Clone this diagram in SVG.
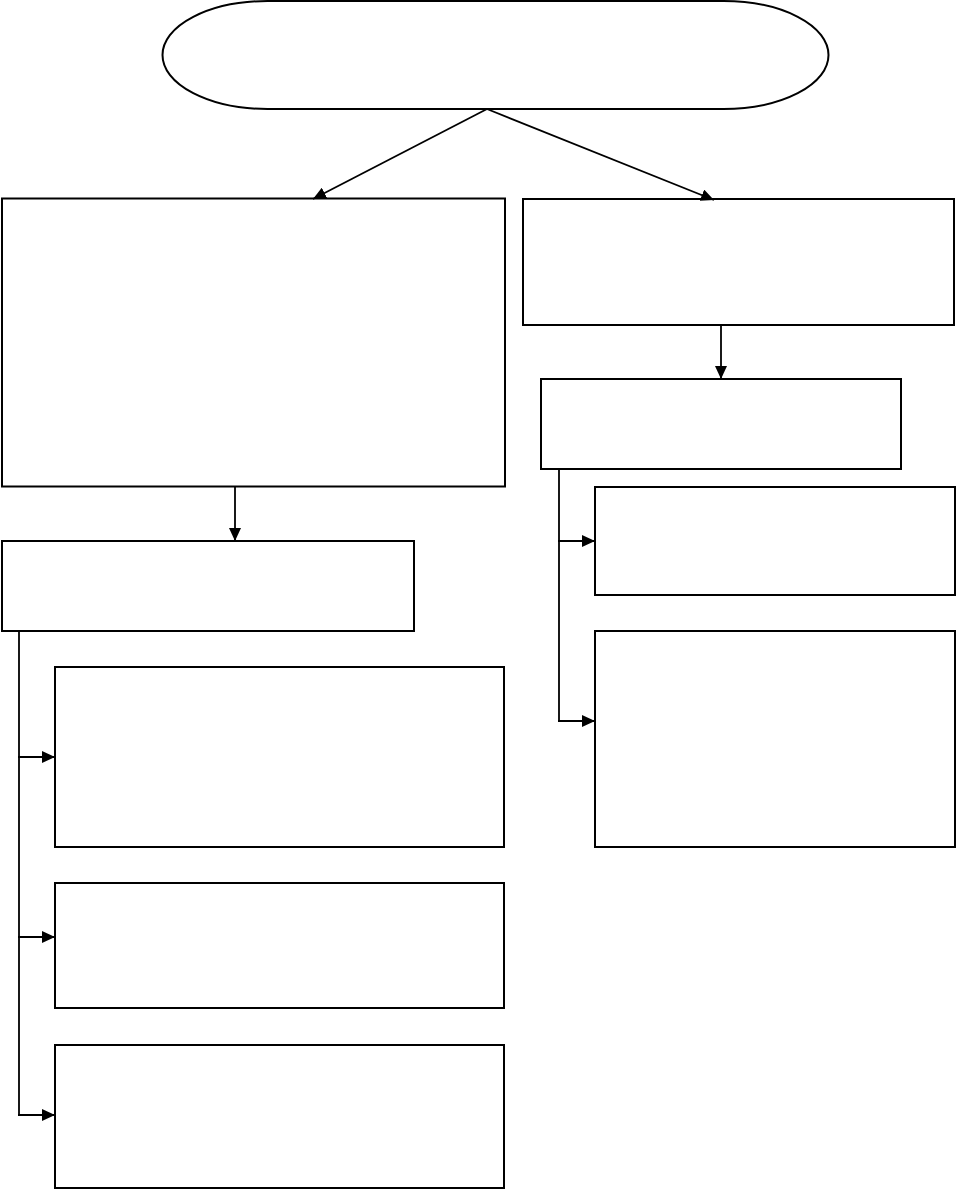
<svg xmlns="http://www.w3.org/2000/svg" width="956" height="1190" viewBox="0 0 956 1190">
<style>
.n{fill:#fff;stroke:#000;stroke-width:2}
.c{fill:none;stroke:#000;stroke-width:1.8}
</style>
<defs>
<marker id="ah" markerUnits="userSpaceOnUse" markerWidth="13" markerHeight="12" refX="13" refY="6" orient="auto">
<path d="M0,0 L13,6 L0,12 Z" fill="#000"/>
</marker>
</defs>
<rect width="956" height="1190" fill="#fff"/>
<g id="start"><rect class="n" x="162.5" y="1" width="666" height="108" rx="105" ry="54" stroke-width="1.6"/></g>
<g id="left-main"><rect class="n" x="2" y="198.5" width="503" height="288" stroke-width="1.8"/></g>
<g id="right-main"><rect class="n" x="523" y="199" width="431" height="126"/></g>
<g id="left-sub"><rect class="n" x="2" y="541" width="412" height="90"/></g>
<g id="left-child-1"><rect class="n" x="55" y="667" width="449" height="180"/></g>
<g id="left-child-2"><rect class="n" x="55" y="883" width="449" height="125"/></g>
<g id="left-child-3"><rect class="n" x="55" y="1045" width="449" height="143"/></g>
<g id="right-sub"><rect class="n" x="541" y="379" width="360" height="90"/></g>
<g id="right-child-1"><rect class="n" x="595" y="487" width="360" height="108"/></g>
<g id="right-child-2"><rect class="n" x="595" y="631" width="360" height="216"/></g>
<g id="connectors">
<line class="c" x1="487" y1="109" x2="313" y2="199" marker-end="url(#ah)"/>
<line class="c" x1="487" y1="109" x2="714" y2="200" marker-end="url(#ah)"/>
<line class="c" x1="235" y1="487" x2="235" y2="541" marker-end="url(#ah)"/>
<line class="c" x1="721" y1="325" x2="721" y2="379" marker-end="url(#ah)"/>
<line class="c" x1="19" y1="631" x2="19" y2="1116" stroke-width="2"/>
<line class="c" x1="18" y1="757" x2="55" y2="757" marker-end="url(#ah)"/>
<line class="c" x1="18" y1="937" x2="55" y2="937" marker-end="url(#ah)"/>
<line class="c" x1="18" y1="1115" x2="55" y2="1115" marker-end="url(#ah)"/>
<line class="c" x1="559" y1="469" x2="559" y2="722" stroke-width="2"/>
<line class="c" x1="558" y1="541" x2="595" y2="541" marker-end="url(#ah)"/>
<line class="c" x1="558" y1="721" x2="595" y2="721" marker-end="url(#ah)"/>
</g>
</svg>
